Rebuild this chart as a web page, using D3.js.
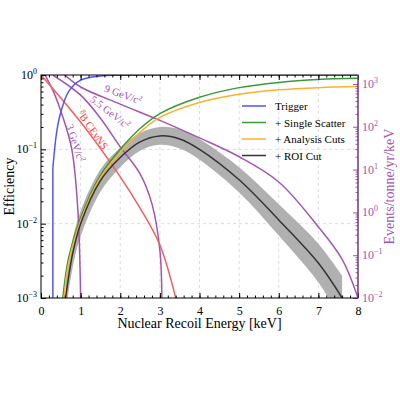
<!DOCTYPE html>
<html><head><meta charset="utf-8">
<script src="https://cdnjs.cloudflare.com/ajax/libs/d3/7.8.5/d3.min.js"></script>
<style>body{margin:0;background:#fff}text{font-family:"Liberation Serif","DejaVu Serif",serif !important}</style>
</head><body><svg id="c" width="400" height="400"></svg>
<script>
// efficiency curves [keV, log10 efficiency]
const trigger = [[0.3,-1.25],[0.4,-0.75],[0.5,-0.5],[0.7,-0.22],[1.0,-0.07],[1.5,-0.013],[2,-0.004],[3,0],[8,0]];
const single = [[0.55,-3],[0.7,-2.45],[1.0,-1.92],[1.5,-1.35],[2,-1.0],[2.5,-0.72],[3,-0.52],[4,-0.3],[5,-0.17],[6,-0.1],[7,-0.06],[8,-0.045]];
const analysis = [[0.58,-3],[0.7,-2.52],[1.0,-1.96],[1.5,-1.38],[2,-1.04],[2.5,-0.77],[3,-0.57],[4,-0.37],[5,-0.26],[6,-0.2],[7,-0.17],[8,-0.155]];
const roi = [[0.62,-3],[0.8,-2.4],[1.0,-2.0],[1.5,-1.42],[2,-1.11],[2.5,-0.9],[3,-0.82],[3.5,-0.86],[4,-1.0],[5,-1.41],[6,-1.95],[7,-2.53],[7.6,-3]];
const roiBand = [0.2,0.19,0.17,0.15,0.13,0.12,0.12,0.13,0.14,0.17,0.21,0.26,0.3]; // half-width, decades
// rate curves [keV, log10 events/tonne/yr/keV]
const wimp9 = [[0.6,3.21],[1,2.93],[2,2.53],[3,2.15],[4,1.74],[5,1.3],[6,0.71],[7,-0.34],[7.6,-1.1],[8,-2]];
const wimp55 = [[0.3,3.21],[1,2.74],[1.5,2.2],[2,1.53],[2.5,0.9],[2.8,0.2],[3.0,-0.88],[3.05,-2]];
const wimp3 = [[0.1,3.21],[0.3,2.85],[0.55,2.23],[0.78,1.46],[0.93,0.06],[1.0,-2]];
const cevns = [[0,3.21],[1,2.11],[2,0.83],[2.5,0.1],[3,-0.76],[3.4,-2]];
const legendNames = ["Trigger","+ Single Scatter","+ Analysis Cuts","+ ROI Cut"];
const legendColors = ["#5555ee","#3a9a3a","#ffb030","#333333"];

const purple = "#a455b0";
const svg = d3.select("#c");
const L=41,R=358,T=75,B=298;
const x = d3.scaleLinear().domain([0,8]).range([L,R]);
const y = d3.scaleLog().domain([1e-3,1]).range([B,T]);
const yr = d3.scaleLog().domain([1e-2,Math.pow(10,3.21)]).range([B,T]);
const p = v=>Math.pow(10,v);

svg.append("clipPath").attr("id","clip").append("rect").attr("x",L).attr("y",T).attr("width",R-L).attr("height",B-T);
const grid = svg.append("g").attr("stroke","#ddd").attr("stroke-dasharray","3,3");
d3.range(1,8).forEach(v=>grid.append("line").attr("x1",x(v)).attr("x2",x(v)).attr("y1",T).attr("y2",B));
[1e-2,1e-1].forEach(v=>grid.append("line").attr("x1",L).attr("x2",R).attr("y1",y(v)).attr("y2",y(v)));

const plot = svg.append("g").attr("clip-path","url(#clip)");
const cv = d3.curveCatmullRom;
const line = d3.line().x(d=>x(d[0])).y(d=>y(p(d[1]))).curve(cv);
const lineR = d3.line().x(d=>x(d[0])).y(d=>yr(p(d[1]))).curve(cv);
const area = d3.area().x(d=>x(d[0])).y0((d,i)=>y(p(d[1]-roiBand[i]))).y1((d,i)=>y(p(d[1]+roiBand[i]))).curve(cv);
plot.append("path").attr("d",area(roi)).attr("fill","#b0b0b0");
[wimp9,wimp55,wimp3].forEach(d=>plot.append("path").attr("d",lineR(d)).attr("fill","none").attr("stroke",purple).attr("stroke-width",1.5));
plot.append("path").attr("d",lineR(cevns)).attr("fill","none").attr("stroke","#f06060").attr("stroke-width",1.5);
plot.append("path").attr("d",line(trigger)).attr("fill","none").attr("stroke",legendColors[0]).attr("stroke-width",1.5);
plot.append("line").attr("x1",x(trigger[0][0])).attr("x2",x(trigger[0][0])).attr("y1",B).attr("y2",y(p(trigger[0][1]))).attr("stroke",legendColors[0]).attr("stroke-width",1.5);
plot.append("path").attr("d",line(single)).attr("fill","none").attr("stroke",legendColors[1]).attr("stroke-width",1.5);
plot.append("path").attr("d",line(analysis)).attr("fill","none").attr("stroke",legendColors[2]).attr("stroke-width",1.5);
plot.append("path").attr("d",line(roi)).attr("fill","none").attr("stroke",legendColors[3]).attr("stroke-width",1.5);

const lab=(t,px,py,rot,col,sup)=>{const e=svg.append("text").attr("transform",`translate(${px},${py}) rotate(${rot})`).attr("fill",col).attr("font-size",10.5).attr("text-anchor","middle").text(t);
 if(sup) e.append("tspan").attr("font-size",7).attr("dy",-4).text(sup);};
lab("9 GeV/c",122,98,20,purple,"2");
lab("5.5 GeV/c",108,115,38,purple,"2");
lab("3 GeV/c",72,144,72,purple,"2");
const cl=svg.append("text").attr("transform","translate(90,132) rotate(55)").attr("fill","#f04040").attr("font-size",10.5).attr("text-anchor","middle");
cl.append("tspan").attr("font-size",7).attr("dy",-4).text("8");cl.append("tspan").attr("dy",4).text("B CEνNS");

const ax=(g)=>g.selectAll(".domain").remove();
svg.append("g").attr("transform",`translate(0,${B})`).call(d3.axisBottom(x).ticks(8).tickSize(-5).tickPadding(8).tickFormat(d3.format("d"))).call(ax).attr("font-size",12);
svg.append("g").attr("transform",`translate(0,${B})`).call(d3.axisBottom(x).tickValues(d3.range(0,8.01,0.2)).tickSize(-2.5).tickFormat("")).call(ax);
svg.append("g").attr("transform",`translate(0,${T})`).call(d3.axisTop(x).ticks(8).tickSize(-5).tickFormat("")).call(ax);
svg.append("g").attr("transform",`translate(0,${T})`).call(d3.axisTop(x).tickValues(d3.range(0,8.01,0.2)).tickSize(-2.5).tickFormat("")).call(ax);
const logTicks=(sc,lo,hi)=>{const m=[],M=[];for(let e=lo;e<hi;e++)for(let k=1;k<10;k++){const v=k*Math.pow(10,e);if(sc.domain()[1]>=v&&v>=sc.domain()[0])(k==1?M:m).push(v);}M.push(Math.pow(10,hi));return [M.filter(v=>v<=sc.domain()[1]),m];};
const [yM,ym]=logTicks(y,-3,0);
svg.append("g").attr("transform",`translate(${L},0)`).call(d3.axisLeft(y).tickValues(yM).tickSize(-5).tickFormat("")).call(ax);
svg.append("g").attr("transform",`translate(${L},0)`).call(d3.axisLeft(y).tickValues(ym).tickSize(-2.5).tickFormat("")).call(ax);
yM.forEach(v=>{const e=Math.round(Math.log10(v));const t=svg.append("text").attr("x",L-4).attr("y",y(v)+4).attr("text-anchor","end").attr("font-size",12).text("10");
 t.append("tspan").attr("font-size",8).attr("dy",-5).text(e<0?"−"+(-e):String(e));});
const [rM,rm]=logTicks(yr,-2,4);
svg.append("g").attr("transform",`translate(${R},0)`).call(d3.axisRight(yr).tickValues(rM).tickSize(-5).tickFormat("")).call(ax).selectAll("line").attr("stroke",purple);
svg.append("g").attr("transform",`translate(${R},0)`).call(d3.axisRight(yr).tickValues(rm).tickSize(-2.5).tickFormat("")).call(ax).selectAll("line").attr("stroke",purple);
rM.forEach(v=>{const e=Math.round(Math.log10(v));const t=svg.append("text").attr("x",R+4).attr("y",yr(v)+4).attr("fill",purple).attr("font-size",12).text("10");
 t.append("tspan").attr("font-size",8).attr("dy",-5).text(e<0?"−"+(-e):String(e));});
svg.append("rect").attr("x",L).attr("y",T).attr("width",R-L).attr("height",B-T).attr("fill","none").attr("stroke","#000").attr("stroke-width",1);
svg.append("line").attr("x1",R).attr("x2",R).attr("y1",T).attr("y2",B).attr("stroke",purple).attr("stroke-width",1);

svg.append("text").attr("x",(L+R)/2).attr("y",328).attr("text-anchor","middle").attr("font-size",14).text("Nuclear Recoil Energy [keV]");
svg.append("text").attr("transform",`translate(14,${(T+B)/2}) rotate(-90)`).attr("text-anchor","middle").attr("font-size",14).text("Efficiency");
svg.append("text").attr("transform",`translate(394,${(T+B)/2}) rotate(-90)`).attr("text-anchor","middle").attr("font-size",14).attr("fill",purple).text("Events/tonne/yr/keV");

legendNames.forEach((n,i)=>{const yy=106+i*16.5;
 svg.append("line").attr("x1",242).attr("x2",266).attr("y1",yy).attr("y2",yy).attr("stroke",legendColors[i]).attr("stroke-width",1.5);
 svg.append("text").attr("x",275).attr("y",yy+4).attr("font-size",11).text(n);});
</script></body></html>
